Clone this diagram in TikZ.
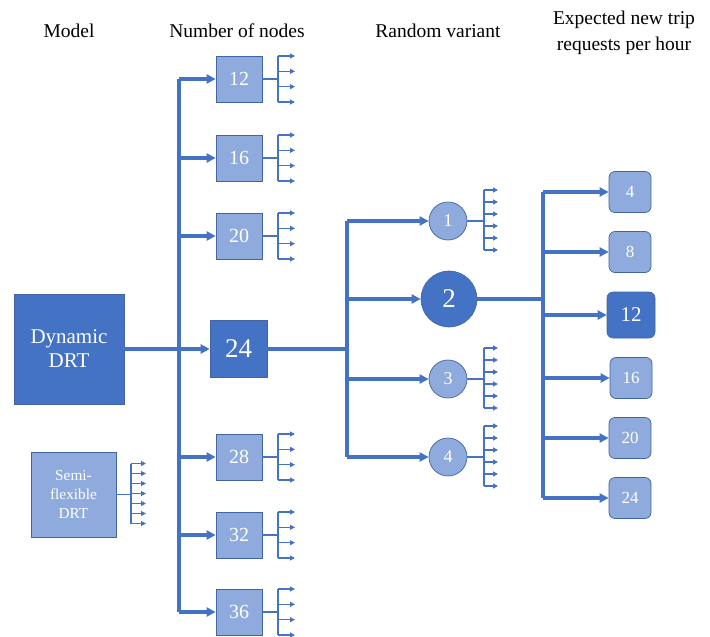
\documentclass[tikz,border=0pt]{standalone}
\usepackage{fontspec}
\setmainfont{Liberation Serif}
\newfontfamily\drtserif{Liberation Serif}
\usetikzlibrary{arrows.meta,calc}
\definecolor{drtdark}{HTML}{4472C4}
\definecolor{drtlight}{HTML}{8FAADC}
\definecolor{drtedge}{HTML}{41659F}
\tikzset{
  every node/.style={font=\drtserif},
  header/.style={font=\drtserif\fontsize{19.5}{26}\selectfont, align=center, text=black},
  darkbox/.style={draw=drtedge, line width=0.6pt, fill=drtdark, text=white, inner sep=0pt},
  lightbox/.style={draw=drtedge, line width=0.7pt, fill=drtlight, text=white, inner sep=0pt,
    minimum width=46pt, minimum height=46pt, font=\drtserif\fontsize{20}{24}\selectfont},
  lightcirc/.style={circle, draw=drtedge, line width=0.7pt, fill=drtlight, text=white, inner sep=0pt,
    minimum size=38pt, font=\drtserif\fontsize{18}{22}\selectfont},
  lightround/.style={rounded corners=6pt, draw=drtedge, line width=0.7pt, fill=drtlight, text=white,
    inner sep=0pt, minimum width=42pt, minimum height=41pt, font=\drtserif\fontsize{17}{20}\selectfont},
  mainline/.style={draw=drtdark, line width=3.4pt},
  mainarrow/.style={draw=drtdark, line width=3.2pt, -{Triangle[length=9pt,width=9pt]}},
  fanline/.style={draw=drtdark, line width=1.1pt},
  fanarrow/.style={draw=drtdark, line width=1.1pt, -{Triangle[length=5pt,width=5pt]}},
}
% small fan of arrows leaving a node:
% node, x of the bar, x of the tips, first and last y offset, list of y offsets
\newcommand\drtfan[6]{%
  \coordinate (#1-bar) at ($(#1.center)+(#2,0)$);
  \coordinate (#1-top) at ($(#1.center)+(#2,#4)$);
  \coordinate (#1-bot) at ($(#1.center)+(#2,#5)$);
  \draw[fanline] (#1.east) -- (#1-bar);
  \draw[fanline] (#1-top) -- (#1-bot);
  \foreach \dy [count=\k] in {#6} {
    \coordinate (#1-tip\k) at ($(#1.center)+(#3,\dy)$);
    \draw[fanarrow] (#1-bar |- #1-tip\k) -- (#1-tip\k);
  }
}
\begin{document}
\begin{tikzpicture}[x=1pt,y=-1pt]
\useasboundingbox (0,0) rectangle (710,637);

% column headings
\node[header] (hmodel) at (69,31) {Model};
\node[header] (hnodes) at (237,31) {Number of nodes};
\node[header] (hvar) at (438,31) {Random variant};
\node[header] (hreq) at (624,33) {Expected new trip\\requests per hour};

% models
\node[darkbox, minimum width=110pt, minimum height=110pt, align=center,
      font=\drtserif\fontsize{21}{24}\selectfont] (dyn) at (69,349) {Dynamic\\DRT};
\node[lightbox, minimum width=85pt, minimum height=85pt, align=center,
      font=\drtserif\fontsize{15.3}{19}\selectfont] (semi) at (73.5,494.5) {Semi-\\flexible\\DRT};

% number of nodes
\node[lightbox] (n12) at (239,79) {12};
\node[lightbox] (n16) at (239,158) {16};
\node[lightbox] (n20) at (239,236) {20};
\node[darkbox, minimum width=57pt, minimum height=57pt, font=\drtserif\fontsize{27}{30}\selectfont] (n24) at (238.5,349) {24};
\node[lightbox] (n28) at (239,457) {28};
\node[lightbox] (n32) at (239,535) {32};
\node[lightbox] (n36) at (239,612) {36};

% random variants
\node[lightcirc] (v1) at (448,221) {1};
\node[circle, darkbox, minimum size=56pt, font=\drtserif\fontsize{27}{30}\selectfont] (v2) at (449,299) {2};
\node[lightcirc] (v3) at (448,379) {3};
\node[lightcirc] (v4) at (448,457) {4};

% expected trip requests per hour
\node[lightround] (r4) at (630,192) {4};
\node[lightround] (r8) at (630,252) {8};
\node[darkbox, rounded corners=6pt, minimum width=48pt, minimum height=46pt,
      font=\drtserif\fontsize{21}{24}\selectfont] (r12) at (631,315) {12};
\node[lightround] (r16) at (631,378) {16};
\node[lightround] (r20) at (630,438) {20};
\node[lightround] (r24) at (630,498) {24};

% model -> number of nodes
\coordinate (t1) at (179,349);
\draw[mainline] (t1 |- n12.west) -- (t1 |- n36.west);
\draw[mainarrow] (dyn.east) -- (n24.west);
\foreach \n in {n12,n16,n20,n28,n32,n36}
  {\draw[mainarrow] (t1 |- \n.west) -- (\n.west);}

% number of nodes -> random variant
\coordinate (t2) at (347,349);
\draw[mainline] (n24.east) -- (t2);
\draw[mainline] (t2 |- v1.west) -- (t2 |- v4.west);
\foreach \n in {v1,v2,v3,v4}
  {\draw[mainarrow] (t2 |- \n.west) -- (\n.west);}

% random variant -> trip requests
\coordinate (t3) at (543,299);
\draw[mainline] (v2.east) -- (t3);
\draw[mainline] (t3 |- r4.west) -- (t3 |- r24.west);
\foreach \n in {r4,r8,r12,r16,r20,r24}
  {\draw[mainarrow] (t3 |- \n.west) -- (\n.west);}

% branches that are not followed further
\drtfan{semi}{57.5}{72.5}{-31}{29}{-31,-21,-11,-1,9,19,29}
\foreach \n in {n12,n16,n20,n28,n32,n36}
  {\drtfan{\n}{39}{56}{-23}{23}{-23,-7.7,7.7,23}}
\foreach \n in {v1,v3,v4}
  {\drtfan{\n}{36}{50}{-31}{29}{-31,-19,-7,5,17,29}}
\end{tikzpicture}
\end{document}
